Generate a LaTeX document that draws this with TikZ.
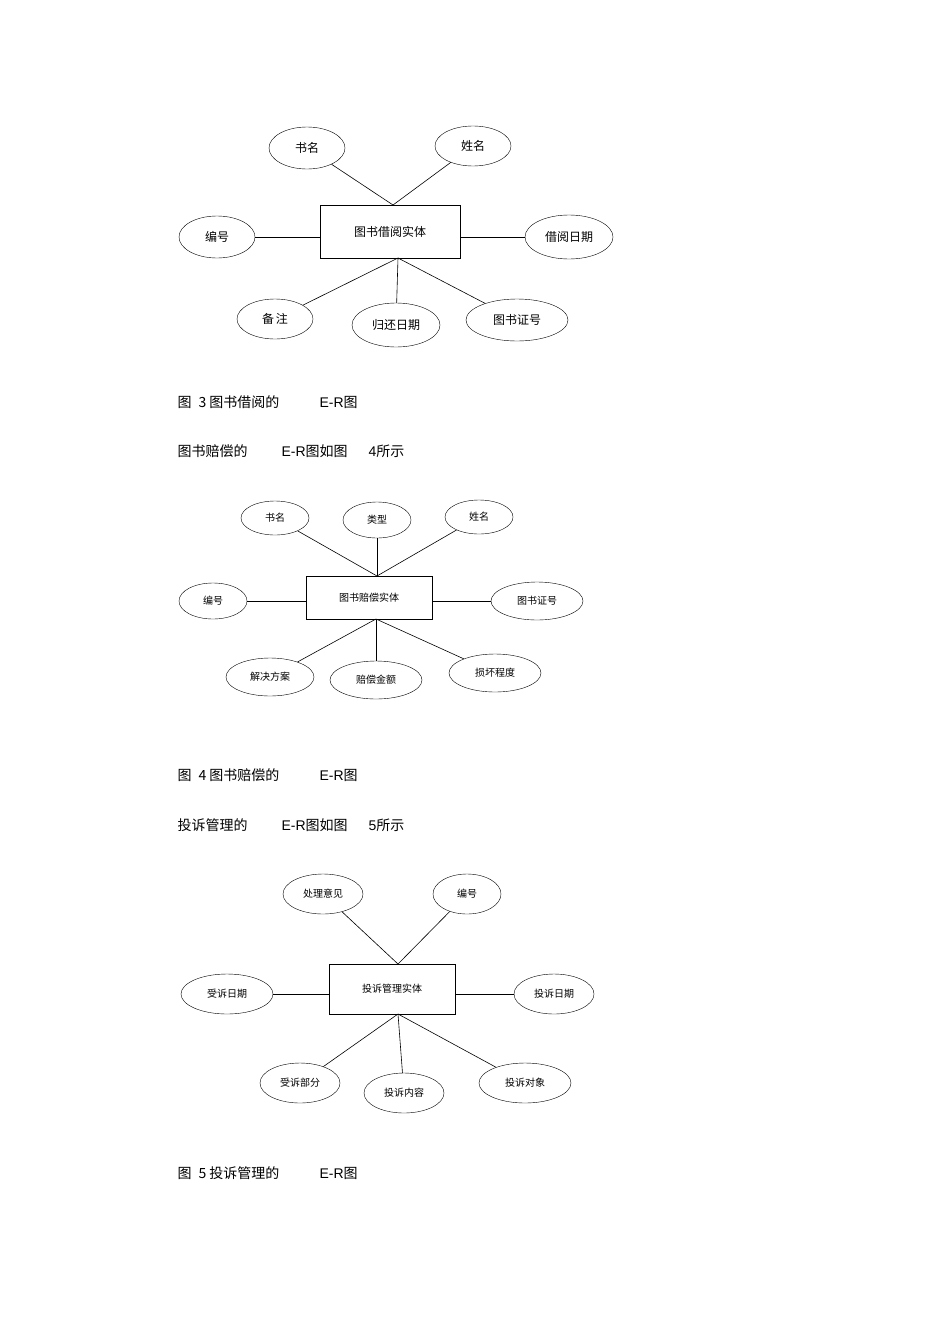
\documentclass[tikz,border=0pt]{standalone}
\usepackage{fontspec}
\setmainfont{Liberation Sans}
\newfontfamily\cjk{Noto Sans CJK SC}
\usetikzlibrary{shapes.geometric}
\begin{document}
\begin{tikzpicture}[x=1pt,y=-1pt,
  ent/.style={draw,thick,rectangle,inner sep=0pt},
  att/.style={draw,ellipse,inner sep=0pt},
  ln/.style={draw,line width=0.6pt},
  f1/.style={font=\cjk\fontsize{12}{14}\selectfont},
  f2/.style={font=\cjk\fontsize{10}{12}\selectfont},
  captext/.style={anchor=west,font=\fontsize{14}{16}\selectfont\cjk}]
\useasboundingbox (0,0) rectangle (950,1344);
% ---- diagram 1
\node[ent,f1,minimum width=140,minimum height=53] (r1) at (390,231.5) {图书借阅实体};
\node[att,f1,minimum width=76,minimum height=42] (a1) at (307,148) {书名};
\node[att,f1,minimum width=76,minimum height=40] (a2) at (473,146) {姓名};
\node[att,f1,minimum width=76,minimum height=42] (a3) at (217,237) {编号};
\node[att,f1,minimum width=88,minimum height=44] (a4) at (569,237) {借阅日期};
\node[att,f1,minimum width=76,minimum height=40] (a5) at (275,319) {备\,注};
\node[att,f1,minimum width=88,minimum height=44] (a6) at (396,325) {归还日期};
\node[att,f1,minimum width=102,minimum height=42] (a7) at (517,320) {图书证号};
\coordinate (t1) at (393,205); \coordinate (b1) at (398,258);
\draw[ln] (a1) -- (t1) -- (a2);
\draw[ln] (a3) -- (r1.west|-a3); \draw[ln] (a4) -- (r1.east|-a4);
\draw[ln] (a5) -- (b1) -- (a6); \draw[ln] (b1) -- (a7);
\node[captext] (c1) at (174,402) {图\,\,\,3 图书借阅的};
\node[captext] (c1b) at (316,402) {\rmfamily E-R\cjk 图};
\node[captext] (c2) at (174,451) {图书赔偿的};
\node[captext] (c2b) at (278,451) {\rmfamily E-R\cjk 图如图};
\node[captext] (c2c) at (365,451) {\rmfamily 4\cjk 所示};
% ---- diagram 2
\node[ent,f2,minimum width=126,minimum height=43] (r2) at (369,597.5) {图书赔偿实体};
\node[att,f2,minimum width=68,minimum height=34] (b1n) at (275,518) {书名};
\node[att,f2,minimum width=68,minimum height=36] (b2) at (377,520) {类型};
\node[att,f2,minimum width=68,minimum height=34] (b3) at (479,517) {姓名};
\node[att,f2,minimum width=68,minimum height=36] (b4) at (213,601) {编号};
\node[att,f2,minimum width=92,minimum height=38] (b5) at (537,601) {图书证号};
\node[att,f2,minimum width=88,minimum height=38] (b6) at (270,677) {解决方案};
\node[att,f2,minimum width=92,minimum height=38] (b7) at (376,680) {赔偿金额};
\node[att,f2,minimum width=92,minimum height=38] (b8) at (495,673) {损坏程度};
\coordinate (t2) at (377,576); \coordinate (u2) at (376,619);
\draw[ln] (b1n) -- (t2) -- (b3); \draw[ln] (b2) -- (t2);
\draw[ln] (b4) -- (r2.west|-b4); \draw[ln] (b5) -- (r2.east|-b5);
\draw[ln] (b6) -- (u2) -- (b8); \draw[ln] (u2) -- (b7);
\node[captext] (c3) at (174,775) {图\,\,\,4 图书赔偿的};
\node[captext] (c3b) at (316,775) {\rmfamily E-R\cjk 图};
\node[captext] (c4) at (174,825) {投诉管理的};
\node[captext] (c4b) at (278,825) {\rmfamily E-R\cjk 图如图};
\node[captext] (c4c) at (365,825) {\rmfamily 5\cjk 所示};
% ---- diagram 3
\node[ent,f2,minimum width=126,minimum height=50] (r3) at (392,989) {投诉管理实体};
\node[att,f2,minimum width=80,minimum height=40] (d1) at (323,894) {处理意见};
\node[att,f2,minimum width=68,minimum height=40] (d2) at (467,894) {编号};
\node[att,f2,minimum width=92,minimum height=40] (d3) at (227,994) {受诉日期};
\node[att,f2,minimum width=80,minimum height=40] (d4) at (554,994) {投诉日期};
\node[att,f2,minimum width=80,minimum height=40] (d5) at (300,1083) {受诉部分};
\node[att,f2,minimum width=80,minimum height=40] (d6) at (404,1093) {投诉内容};
\node[att,f2,minimum width=92,minimum height=40] (d7) at (525,1083) {投诉对象};
\coordinate (t3) at (398,964); \coordinate (u3) at (398,1014);
\draw[ln] (d1) -- (t3) -- (d2);
\draw[ln] (d3) -- (r3.west|-d3); \draw[ln] (d4) -- (r3.east|-d4);
\draw[ln] (d5) -- (u3) -- (d7); \draw[ln] (u3) -- (d6);
\node[captext] (c5) at (174,1173) {图\,\,\,5 投诉管理的};
\node[captext] (c5b) at (316,1173) {\rmfamily E-R\cjk 图};
\end{tikzpicture}
\end{document}
